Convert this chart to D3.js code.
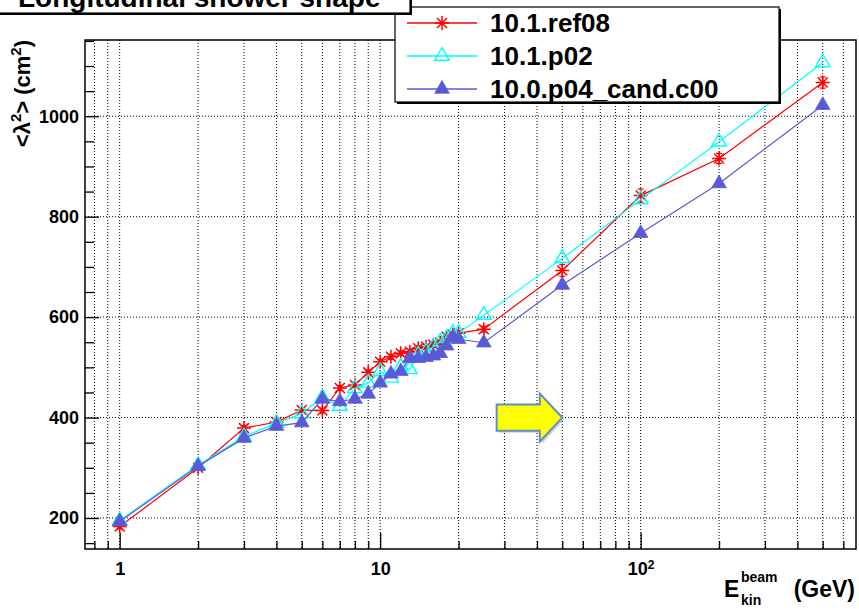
<!DOCTYPE html>
<html>
<head>
<meta charset="utf-8">
<script src="https://cdn.jsdelivr.net/npm/d3@7"></script>
<style>
    body { margin: 0; background: #fff; }
    svg { display: block; font-family: "Liberation Sans", Arial, Helvetica, sans-serif; font-weight: bold; }
    .grid line { stroke: #000; stroke-width: 1; stroke-dasharray: 1,2; }
    .axis text { font-size: 18px; font-weight: bold; font-family: "Liberation Sans", Arial, sans-serif; }
    .axis line { stroke: #000; stroke-width: 1.3; }
</style>
</head>
<body>
<svg id="chart"></svg>
<script>
// beam energies (GeV)
const energies = [1, 2, 3, 4, 5, 6, 7, 8, 9, 10, 11, 12, 13, 14, 15, 16, 17, 18, 19, 20, 25, 50, 100, 200, 500];

// <lambda^2> (cm^2) per version
const ref08 = [183, 300, 379, 391, 415, 414, 459, 465, 490, 511, 521, 528, 531, 538, 541, 545, 549, 561, 565, 568, 576, 693, 842, 916, 1067];
const ref08Err = [5, 4, 5, 4, 5, 5, 5, 5, 5, 5, 5, 5, 5, 5, 5, 5, 5, 5, 5, 5, 6, 12, 13, 10, 11];
const p02 = [195, 305, 362, 389, 408, 440, 423, 458, 469, 492, 479, 501, 496, 525, 531, 541, 551, 558, 568, 568, 604, 717, 834, 949, 1107];
const cand = [193, 303, 359, 383, 390, 437, 432, 437, 447, 469, 487, 492, 518, 518, 520, 523, 528, 543, 560, 556, 549, 664, 767, 866, 1022];

const legendLabels = ["10.1.ref08", "10.1.p02", "10.0.p04_cand.c00"];
const titleText = "Longitudinal shower shape";

const xMajorTicks = [1, 10, 100];
const xMinorTicks = [0.8, 0.9, 2, 3, 4, 5, 6, 7, 8, 9, 20, 30, 40, 50, 60, 70, 80, 90, 200, 300, 400, 500, 600];
const yMajorTicks = [200, 400, 600, 800, 1000];
const yMinorTicks = [150, 250, 300, 350, 450, 500, 550, 650, 700, 750, 850, 900, 950, 1050, 1100, 1150];

let margin = { top: 40, right: 3, bottom: 60, left: 85 };
let width = 859 - margin.left - margin.right;
let height = 609 - margin.top - margin.bottom;

let root = d3.select("#chart")
    .attr("width", 859)
    .attr("height", 609);

let svg = root.append("g")
    .attr("transform", "translate(" + margin.left + "," + margin.top + ")");

let x = d3.scaleLog().domain([0.736, 671]).range([0, width]);
let y = d3.scaleLinear().domain([138.3, 1151.8]).range([height, 0]);

// grid
svg.append("g").attr("class", "grid")
    .selectAll("line")
    .data(xMajorTicks.concat(xMinorTicks))
    .join("line")
    .attr("x1", d => x(d)).attr("x2", d => x(d))
    .attr("y1", 0).attr("y2", height);

svg.append("g").attr("class", "grid")
    .selectAll("line")
    .data(yMajorTicks)
    .join("line")
    .attr("x1", 0).attr("x2", width)
    .attr("y1", d => y(d)).attr("y2", d => y(d));

let series = [
    { name: legendLabels[0], values: ref08, err: ref08Err, color: "#ff0000", marker: "star" },
    { name: legendLabels[1], values: p02, color: "#00ffff", marker: "open" },
    { name: legendLabels[2], values: cand, color: "#5a5ad8", marker: "full" }
];

let line = d3.line()
    .x(d => x(d[0]))
    .y(d => y(d[1]));

let starPath = "M-7,0H7M0,-7V7M-5,-5L5,5M-5,5L5,-5";
let triPath = d3.symbol().type(d3.symbolTriangle).size(92)();

function drawMarker(g, s) {
    if (s.marker == "star") {
        g.append("path").attr("d", starPath)
            .attr("fill", "none").attr("stroke", s.color).attr("stroke-width", 1.5);
    } else if (s.marker == "open") {
        g.append("path").attr("d", triPath)
            .attr("fill", "none").attr("stroke", s.color).attr("stroke-width", 1.4);
    } else {
        g.append("path").attr("d", triPath)
            .attr("fill", s.color).attr("stroke", s.color).attr("stroke-width", 0.8);
    }
}

series.forEach(s => {
    let pts = energies.map((e, i) => [e, s.values[i]]);

    svg.append("path")
        .datum(pts)
        .attr("fill", "none")
        .attr("stroke", s.color)
        .attr("stroke-width", 1.2)
        .attr("d", line);

    if (s.err) {
        let eb = svg.append("g").selectAll("g")
            .data(pts)
            .join("g")
            .attr("stroke", s.color)
            .attr("stroke-width", 1.2);
        eb.append("line")
            .attr("x1", d => x(d[0])).attr("x2", d => x(d[0]))
            .attr("y1", (d, i) => y(d[1] - s.err[i])).attr("y2", (d, i) => y(d[1] + s.err[i]));
        eb.append("line")
            .attr("x1", d => x(d[0]) - 3).attr("x2", d => x(d[0]) + 3)
            .attr("y1", (d, i) => y(d[1] - s.err[i])).attr("y2", (d, i) => y(d[1] - s.err[i]));
        eb.append("line")
            .attr("x1", d => x(d[0]) - 3).attr("x2", d => x(d[0]) + 3)
            .attr("y1", (d, i) => y(d[1] + s.err[i])).attr("y2", (d, i) => y(d[1] + s.err[i]));
    }

    svg.append("g").selectAll("g")
        .data(pts)
        .join("g")
        .attr("transform", d => "translate(" + x(d[0]) + "," + y(d[1]) + ")")
        .each(function() { drawMarker(d3.select(this), s); });
});

// Add the X Axis (minor + major ticks, drawn inside)
svg.append("g")
    .attr("class", "axis")
    .attr("transform", "translate(0," + height + ")")
    .call(d3.axisBottom(x).tickValues(xMinorTicks).tickSizeInner(-8).tickSizeOuter(0).tickFormat(""))
    .call(g => g.select(".domain").remove());

let xMaj = svg.append("g")
    .attr("class", "axis")
    .attr("transform", "translate(0," + height + ")")
    .call(d3.axisBottom(x).tickValues(xMajorTicks).tickSizeInner(-16).tickSizeOuter(0).tickPadding(13)
        .tickFormat(d => d >= 100 ? "" : d))
    .attr("font-size", null).attr("font-family", null);
xMaj.select(".domain").remove();
xMaj.selectAll(".tick text")
    .filter(d => d >= 100)
    .each(function(d) {
        let t = d3.select(this);
        t.append("tspan").text("10");
        t.append("tspan").attr("dy", "-0.45em").style("font-size", "12px").text(Math.round(Math.log10(d)));
    });

// Add the Y Axis
svg.append("g")
    .attr("class", "axis")
    .call(d3.axisLeft(y).tickValues(yMinorTicks).tickSizeInner(-9).tickSizeOuter(0).tickFormat(""))
    .call(g => g.select(".domain").remove());

svg.append("g")
    .attr("class", "axis")
    .call(d3.axisLeft(y).tickValues(yMajorTicks).tickSizeInner(-14).tickSizeOuter(0).tickPadding(6)
        .tickFormat(d => String(d)))
    .attr("font-size", null).attr("font-family", null)
    .call(g => g.select(".domain").remove());

// frame
svg.append("rect")
    .attr("width", width).attr("height", height)
    .attr("fill", "none").attr("stroke", "#000").attr("stroke-width", 1.5);

// arrow annotation (tip at 50 GeV, 400 cm2)
let arrowTip = [50, 400], arrowTail = 28, arrowNeck = 41, bodyHalf = 26, headHalf = 48;
let arrowPts = [
    [x(arrowTail), y(arrowTip[1] + bodyHalf)],
    [x(arrowNeck), y(arrowTip[1] + bodyHalf)],
    [x(arrowNeck), y(arrowTip[1] + headHalf)],
    [x(arrowTip[0]), y(arrowTip[1])],
    [x(arrowNeck), y(arrowTip[1] - headHalf)],
    [x(arrowNeck), y(arrowTip[1] - bodyHalf)],
    [x(arrowTail), y(arrowTip[1] - bodyHalf)]
];
svg.append("polygon")
    .attr("points", arrowPts.map(p => (p[0] + 2) + "," + (p[1] + 2)).join(" "))
    .attr("fill", "#000").attr("opacity", 0.18);
svg.append("polygon")
    .attr("points", arrowPts.map(p => p.join(",")).join(" "))
    .attr("fill", "#ffff00").attr("stroke", "#5b8fd0").attr("stroke-width", 2)
    .attr("stroke-linejoin", "miter");

// Axis titles
let yTitle = root.append("text")
    .attr("transform", "translate(30,40) rotate(-90)")
    .attr("text-anchor", "end")
    .style("font-size", "22px");
yTitle.append("tspan").text("<\u03bb");
yTitle.append("tspan").attr("dy", -9).style("font-size", "15px").text("2");
yTitle.append("tspan").attr("dy", 9).text("> (cm");
yTitle.append("tspan").attr("dy", -9).style("font-size", "15px").text("2");
yTitle.append("tspan").attr("dy", 9).text(")");

root.append("text").attr("x", 724).attr("y", 597).style("font-size", "23px").text("E");
root.append("text").attr("x", 741).attr("y", 582).style("font-size", "14px").text("beam");
root.append("text").attr("x", 741).attr("y", 605).style("font-size", "14px").text("kin");
root.append("text").attr("x", 855).attr("y", 597).attr("text-anchor", "end").style("font-size", "23px").text("(GeV)");

// Legend
let lg = root.append("g");
lg.append("rect").attr("x", 397).attr("y", 9).attr("width", 384).attr("height", 95).attr("fill", "#000");
lg.append("rect").attr("x", 395).attr("y", 7).attr("width", 384).attr("height", 95)
    .attr("fill", "#fff").attr("stroke", "#000").attr("stroke-width", 1.2);
series.forEach((s, i) => {
    let cy = 23 + i * 33;
    lg.append("line").attr("x1", 407).attr("x2", 477).attr("y1", cy).attr("y2", cy)
        .attr("stroke", s.color).attr("stroke-width", 1.3);
    let m = lg.append("g").attr("transform", "translate(442," + cy + ")");
    drawMarker(m, s);
    lg.append("text").attr("x", 490).attr("y", cy + 9).style("font-size", "26px").text(s.name);
});

// Title box
root.append("rect").attr("x", -2).attr("y", -30).attr("width", 414).attr("height", 45).attr("fill", "#000");
root.append("rect").attr("x", -2).attr("y", -30).attr("width", 412).attr("height", 43)
    .attr("fill", "#fff").attr("stroke", "#000").attr("stroke-width", 1.2);
root.append("text").attr("x", 18).attr("y", 7).style("font-size", "28px").text(titleText);
</script>
</body>
</html>
